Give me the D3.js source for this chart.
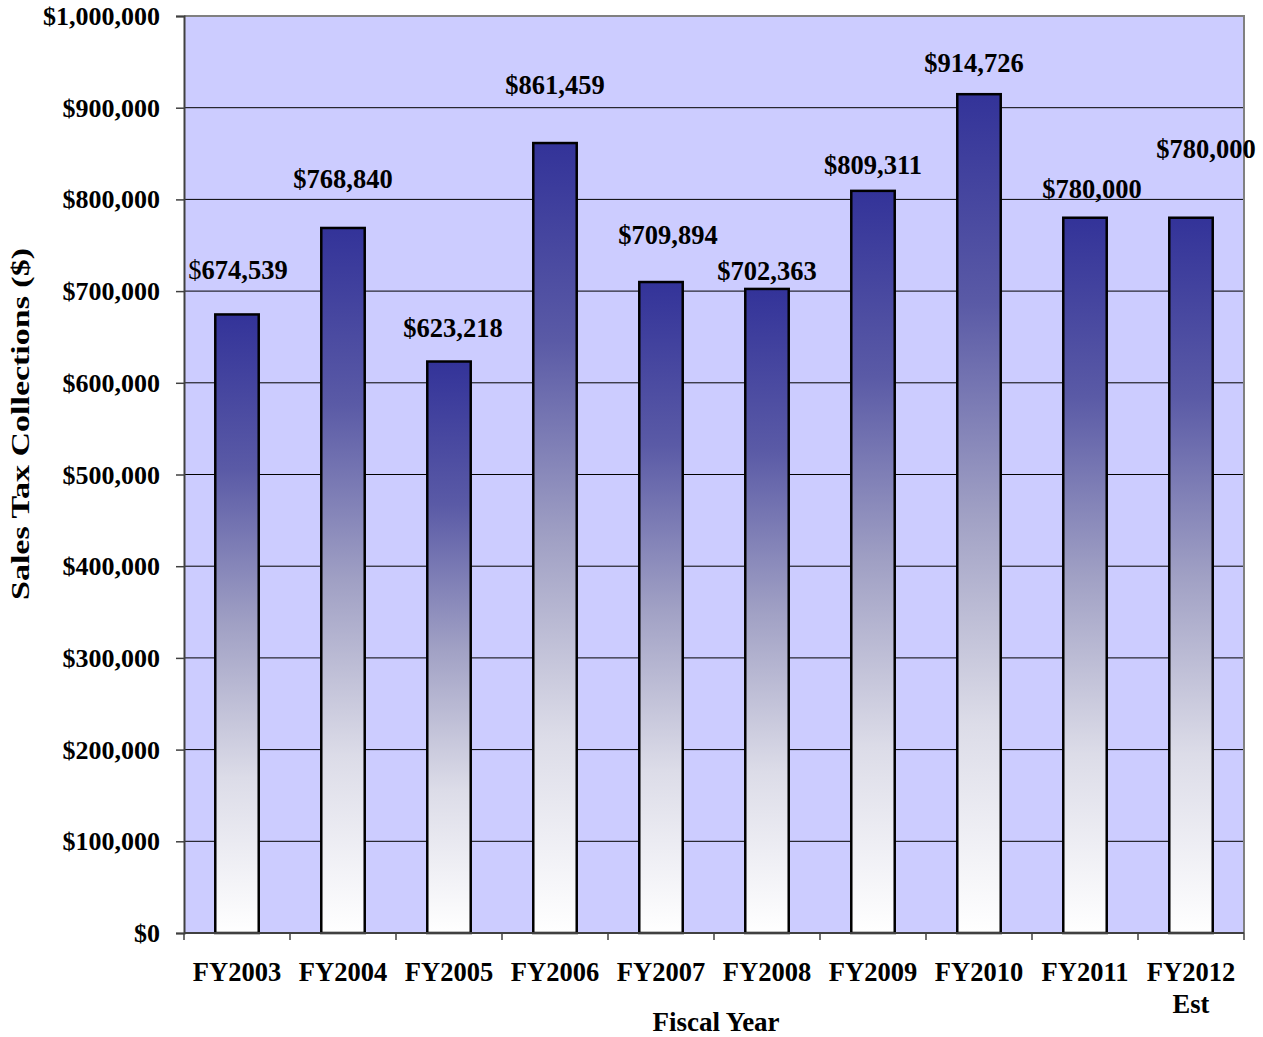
<!DOCTYPE html>
<html>
<head>
<meta charset="utf-8">
<script src="https://cdn.jsdelivr.net/npm/d3@7"></script>
<style>
  html, body { margin: 0; padding: 0; background: #fff; }
  svg { display: block; }
  text { font-family: "Liberation Serif", "Times New Roman", serif; font-weight: bold; fill: #000; }
</style>
</head>
<body>
<svg id="chart" width="1263" height="1037"></svg>
<script>
// Sales tax collections by fiscal year
const years = ["FY2003", "FY2004", "FY2005", "FY2006", "FY2007", "FY2008", "FY2009", "FY2010", "FY2011", "FY2012"];
const yearNotes = ["", "", "", "", "", "", "", "", "", "Est"];
const collections = [674539, 768840, 623218, 861459, 709894, 702363, 809311, 914726, 780000, 780000];
const yTicks = [0, 100000, 200000, 300000, 400000, 500000, 600000, 700000, 800000, 900000, 1000000];

// Hand-placed value labels: pixel nudges from the top of each bar
const labelNudge = [
  { dx: 1, dy: -35 }, { dx: 0, dy: -40 }, { dx: 4, dy: -25 }, { dx: 0, dy: -49 },
  { dx: 7, dy: -38 }, { dx: 0, dy: -9 }, { dx: 0, dy: -17 }, { dx: -5, dy: -22 },
  { dx: 7, dy: -20 }, { dx: 15, dy: -60 }
];

const svg = d3.select("#chart");
const plot = { left: 184, right: 1244, top: 16, bottom: 933 };

const x = d3.scaleBand().domain(years).range([plot.left, plot.right]).paddingInner(0.59).paddingOuter(0.295);
const y = d3.scaleLinear().domain([0, 1000000]).range([plot.bottom, plot.top]);

// Per-bar vertical gradient: dark blue at the top fading through grey-blue to white
const defs = svg.append("defs");
const grad = defs.append("linearGradient").attr("id", "barFill")
  .attr("x1", 0).attr("y1", 0).attr("x2", 0).attr("y2", 1);
[["0%", "#333399"], ["25%", "#5a5aa6"], ["50%", "#a0a0c4"], ["75%", "#dcdce8"], ["100%", "#ffffff"]]
  .forEach(([o, c]) => grad.append("stop").attr("offset", o).attr("stop-color", c));

// Plot background
svg.append("rect")
  .attr("x", plot.left).attr("y", plot.top)
  .attr("width", plot.right - plot.left).attr("height", plot.bottom - plot.top)
  .attr("fill", "#ccccff");

// Horizontal gridlines
svg.append("g").selectAll("line").data(yTicks.filter(d => d > 0 && d < 1000000)).join("line")
  .attr("x1", plot.left).attr("x2", plot.right)
  .attr("y1", d => y(d)).attr("y2", d => y(d))
  .attr("stroke", "#000").attr("stroke-width", 1);

// Plot border (top and right, gray)
svg.append("path")
  .attr("d", `M${plot.left},${plot.top}H${plot.right}V${plot.bottom}`)
  .attr("fill", "none").attr("stroke", "#808080").attr("stroke-width", 2);

// Bars
svg.append("g").selectAll("rect").data(collections).join("rect")
  .attr("x", (d, i) => x(years[i]))
  .attr("y", d => y(d))
  .attr("width", x.bandwidth())
  .attr("height", d => y(0) - y(d))
  .attr("fill", "url(#barFill)")
  .attr("stroke", "#000").attr("stroke-width", 2.5);

// Value labels
const fmt = d3.format(",");
svg.append("g").selectAll("text").data(collections).join("text")
  .attr("x", (d, i) => x(years[i]) + x.bandwidth() / 2 + labelNudge[i].dx)
  .attr("y", (d, i) => y(d) + labelNudge[i].dy)
  .attr("text-anchor", "middle")
  .attr("font-size", 26.5)
  .each(function (d, i) {
    const t = d3.select(this);
    t.append("tspan").attr("font-weight", i === 0 ? "normal" : "bold").text("$");
    t.append("tspan").text(fmt(d));
  });

// Y axis
const yAxis = d3.axisLeft(y).tickValues(yTicks).tickSize(8).tickPadding(16)
  .tickFormat(d => "$" + fmt(d));
const yG = svg.append("g").attr("transform", `translate(${plot.left},0)`).call(yAxis);
yG.select(".domain").attr("stroke", "#404040").attr("stroke-width", 2);
yG.selectAll(".tick line").attr("stroke", "#404040").attr("stroke-width", 1.5);
yG.selectAll(".tick text").attr("font-size", 26).attr("font-family", "Liberation Serif").attr("font-weight", "bold").attr("dy", "0.33em");

// X axis baseline and category boundary ticks
svg.append("line")
  .attr("x1", plot.left).attr("x2", plot.right)
  .attr("y1", plot.bottom).attr("y2", plot.bottom)
  .attr("stroke", "#404040").attr("stroke-width", 2);
const step = x.step();
svg.append("g").selectAll("line").data(d3.range(years.length + 1)).join("line")
  .attr("x1", i => plot.left + i * step).attr("x2", i => plot.left + i * step)
  .attr("y1", plot.bottom).attr("y2", plot.bottom + 7)
  .attr("stroke", "#404040").attr("stroke-width", 1.5);

// Category labels
const xl = svg.append("g").selectAll("text").data(years).join("text")
  .attr("x", d => x(d) + x.bandwidth() / 2)
  .attr("y", 981)
  .attr("text-anchor", "middle")
  .attr("font-size", 26.5);
xl.append("tspan").text(d => d);
xl.append("tspan")
  .attr("x", d => x(d) + x.bandwidth() / 2)
  .attr("dy", 32)
  .text((d, i) => yearNotes[i]);

// Axis titles
svg.append("text")
  .attr("x", 716).attr("y", 1031)
  .attr("text-anchor", "middle").attr("font-size", 27)
  .text("Fiscal Year");
svg.append("text")
  .attr("transform", "translate(29,424) rotate(-90)")
  .attr("text-anchor", "middle").attr("font-size", 26)
  .attr("textLength", 352).attr("lengthAdjust", "spacingAndGlyphs")
  .text("Sales Tax Collections ($)");
</script>
</body>
</html>
